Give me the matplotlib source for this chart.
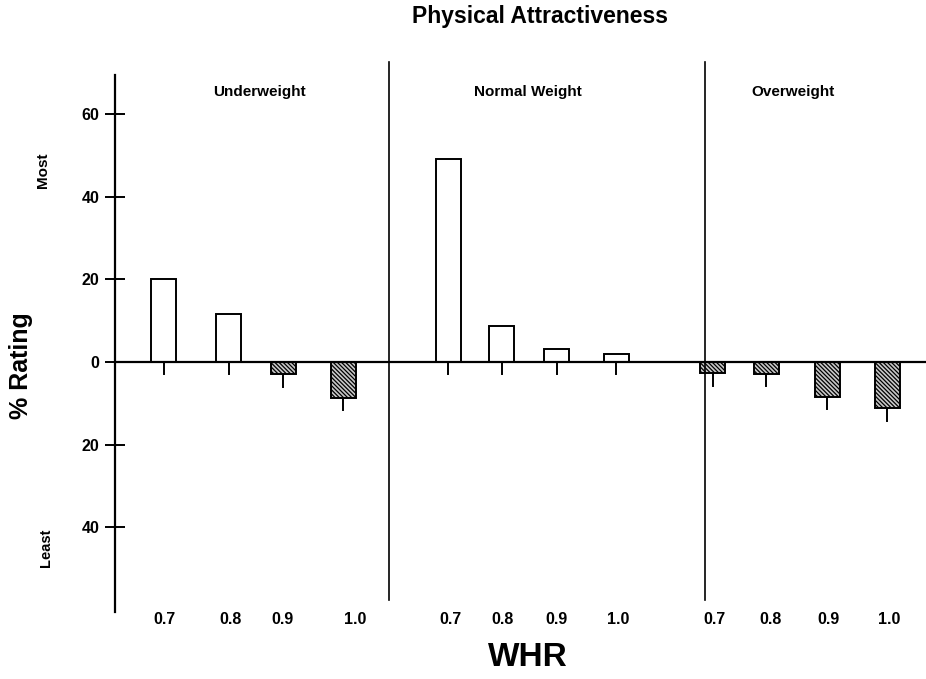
import matplotlib
matplotlib.use("Agg")
import matplotlib.pyplot as plt

plt.rcParams['font.family'] = ['Liberation Sans', 'DejaVu Sans']
plt.rcParams['hatch.color'] = '#333333'
plt.rcParams['hatch.linewidth'] = 0.9

# ---- data ----
groups = ['Underweight', 'Normal Weight', 'Overweight']
whr_labels = ['0.7', '0.8', '0.9', '1.0']
underweight = [20.0, 11.6, -3.0, -8.7]
normal_weight = [49.1, 8.7, 3.1, 1.9]
overweight = [-2.7, -2.9, -8.4, -11.1]
err_under = [3.0, 3.0, 3.0, 2.9]
err_normal = [3.0, 3.0, 3.0, 3.0]
err_over = [3.1, 2.9, 3.0, 3.2]
ytick_vals = [60, 40, 20, 0, -20, -40]
ytick_text = ['60', '40', '20', '0', '20', '40']

# ---- layout (pixel-like x coordinates) ----
bar_centers = [[163.5, 228.5, 283, 343],
               [448, 501.5, 556.5, 616],
               [712.5, 766, 827, 887]]
label_centers = [[164, 230, 283, 355],
                 [450, 503, 557, 618],
                 [715, 770, 829, 889]]
group_label_x = [259, 528, 793]
dividers = [389, 705]
bar_w = 25

W, H = 926, 679
fig = plt.figure(figsize=(W / 100, H / 100), dpi=100)
ax_left, ax_right, ax_top, ax_bot = 115, 926, 75, 612
ax = fig.add_axes([ax_left / W, 1 - ax_bot / H, (ax_right - ax_left) / W, (ax_bot - ax_top) / H])
ax.set_xlim(ax_left, ax_right)
ppu = 4.133
ax.set_ylim(-(ax_bot - 362) / ppu, (362 - ax_top) / ppu)

series = [underweight, normal_weight, overweight]
errs = [err_under, err_normal, err_over]
for g in range(3):
    for i, v in enumerate(series[g]):
        x = bar_centers[g][i]
        if v >= 0:
            ax.bar(x, v, width=bar_w, color='white', edgecolor='black', linewidth=1.4, zorder=3)
            ax.plot([x, x], [0, -errs[g][i]], color='black', lw=1.4, zorder=2)
        else:
            ax.bar(x, v, width=bar_w, color='#c8c8c8', edgecolor='black', linewidth=1.4,
                   hatch='\\\\\\\\\\\\\\\\', zorder=3)
            ax.plot([x, x], [v, v - errs[g][i]], color='black', lw=1.4, zorder=2)

# zero line
ax.axhline(0, color='black', lw=1.6, zorder=4)

# dividers
for dx in dividers:
    ax.plot([dx, dx], [(362 - 62) / ppu, -(600 - 362) / ppu], color='black', lw=1.2,
            clip_on=False, zorder=4)

# spines
for s in ['top', 'right', 'bottom']:
    ax.spines[s].set_visible(False)
ax.spines['left'].set_linewidth(1.6)

ax.set_yticks(ytick_vals)
ax.set_yticklabels(ytick_text, fontsize=11.5, fontweight='bold')
ax.tick_params(axis='y', direction='inout', length=14, width=1.4, pad=4)

flat_pos = [p for grp in label_centers for p in grp]
flat_lab = whr_labels * 3
ax.set_xticks(flat_pos)
ax.set_xticklabels(flat_lab, fontsize=11.5, fontweight='bold')
ax.tick_params(axis='x', length=0, pad=0)

# group labels
for g, name in enumerate(groups):
    ax.text(group_label_x[g], (362 - 92) / ppu, name, ha='center', va='center',
            fontsize=11, fontweight='bold')

# texts
fig.text(540 / W, 1 - 17 / H, 'Physical Attractiveness', ha='center', va='center',
         fontsize=16.5, fontweight='bold')
fig.text(21 / W, 1 - 366 / H, '% Rating', ha='center', va='center', rotation=90,
         fontsize=18, fontweight='bold')
fig.text(43 / W, 1 - 170 / H, 'Most', ha='center', va='center', rotation=90,
         fontsize=11, fontweight='bold')
fig.text(46 / W, 1 - 548 / H, 'Least', ha='center', va='center', rotation=90,
         fontsize=10.5, fontweight='bold')
fig.text(528 / W, 1 - 658 / H, 'WHR', ha='center', va='center',
         fontsize=24, fontweight='bold')

fig.savefig('out.png', dpi=100, facecolor='white')
